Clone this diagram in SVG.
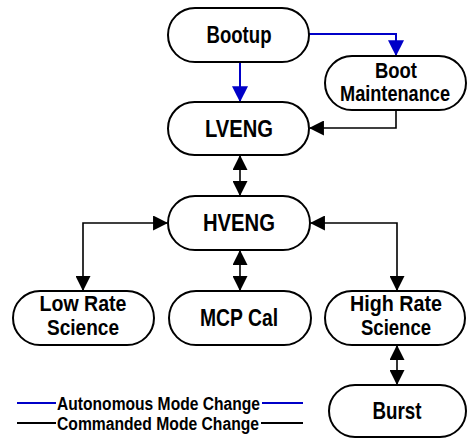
<svg xmlns="http://www.w3.org/2000/svg" width="468" height="439" viewBox="0 0 468 439">
<style>
.box{fill:#fff;stroke:#000;stroke-width:2}
.t{font-family:"Liberation Sans",Arial,sans-serif;font-weight:bold;font-size:24px;fill:#000;text-anchor:middle}
.t2{font-family:"Liberation Sans",Arial,sans-serif;font-weight:bold;font-size:22px;fill:#000;text-anchor:middle}
.lg{font-family:"Liberation Sans",Arial,sans-serif;font-weight:bold;font-size:18px;fill:#000}
.blue{fill:none;stroke:#0000c8;stroke-width:2}
.blk{fill:none;stroke:#000;stroke-width:1.6}
</style>
<defs>
<marker id="ab" markerUnits="userSpaceOnUse" markerWidth="16" markerHeight="16" viewBox="0 0 14 14" refX="13" refY="7" orient="auto">
<path d="M0,0 L14,7 L0,14 Z" fill="#0000c8"/>
</marker>
<marker id="ak" markerUnits="userSpaceOnUse" markerWidth="15" markerHeight="15" viewBox="0 0 14 14" refX="13" refY="7" orient="auto-start-reverse">
<path d="M0,0 L14,7 L0,14 Z" fill="#000"/>
</marker>
</defs>
<g id="connectors">
<path class="blue" d="M240,62 V101" marker-end="url(#ab)"/>
<path class="blue" d="M309,34 H396 V55" marker-end="url(#ab)"/>
<path class="blk" d="M396,110 V128 H310" marker-end="url(#ak)"/>
<path class="blk" d="M240,156 V195" marker-start="url(#ak)" marker-end="url(#ak)"/>
<path class="blk" d="M167,223 H83 V290" marker-start="url(#ak)" marker-end="url(#ak)"/>
<path class="blk" d="M311,223 H397 V290" marker-start="url(#ak)" marker-end="url(#ak)"/>
<path class="blk" d="M240,251 V290" marker-start="url(#ak)" marker-end="url(#ak)"/>
<path class="blk" d="M397,346 V384" marker-start="url(#ak)" marker-end="url(#ak)"/>
</g>
<g id="bootup"><rect class="box" x="168" y="8" width="141" height="54" rx="27"/><text class="t" x="239" y="43" textLength="65" lengthAdjust="spacingAndGlyphs">Bootup</text></g>
<g id="bootmaint"><rect class="box" x="325" y="56" width="141" height="54" rx="27"/><text class="t2" x="396" y="78" textLength="42" lengthAdjust="spacingAndGlyphs">Boot</text><text class="t2" x="395" y="101" textLength="110" lengthAdjust="spacingAndGlyphs">Maintenance</text></g>
<g id="lveng"><rect class="box" x="168" y="102" width="141" height="53" rx="26.5"/><text class="t" x="239" y="137" textLength="68" lengthAdjust="spacingAndGlyphs">LVENG</text></g>
<g id="hveng"><rect class="box" x="168" y="196" width="142" height="54" rx="27"/><text class="t" x="239" y="231" textLength="72" lengthAdjust="spacingAndGlyphs">HVENG</text></g>
<g id="lowrate"><rect class="box" x="13" y="291" width="141" height="54" rx="27"/><text class="t2" x="83" y="311" textLength="87" lengthAdjust="spacingAndGlyphs">Low Rate</text><text class="t2" x="83" y="335" textLength="72" lengthAdjust="spacingAndGlyphs">Science</text></g>
<g id="mcpcal"><rect class="box" x="169" y="291" width="142" height="54" rx="27"/><text class="t" x="239" y="326" textLength="78" lengthAdjust="spacingAndGlyphs">MCP Cal</text></g>
<g id="highrate"><rect class="box" x="325" y="291" width="140" height="54" rx="27"/><text class="t2" x="396" y="311" textLength="92" lengthAdjust="spacingAndGlyphs">High Rate</text><text class="t2" x="396" y="335" textLength="70" lengthAdjust="spacingAndGlyphs">Science</text></g>
<g id="burst"><rect class="box" x="329" y="385" width="137" height="52" rx="26"/><text class="t" x="397" y="419" textLength="49" lengthAdjust="spacingAndGlyphs">Burst</text></g>
<g id="legend">
<line x1="17" y1="403" x2="56" y2="403" stroke="#0000c8" stroke-width="2"/>
<line x1="262" y1="403" x2="303" y2="403" stroke="#0000c8" stroke-width="2"/>
<text class="lg" x="57" y="410" textLength="203" lengthAdjust="spacingAndGlyphs">Autonomous Mode Change</text>
<line x1="17" y1="423" x2="56" y2="423" stroke="#000" stroke-width="2"/>
<line x1="261" y1="423" x2="303" y2="423" stroke="#000" stroke-width="2"/>
<text class="lg" x="57" y="430" textLength="202" lengthAdjust="spacingAndGlyphs">Commanded Mode Change</text>
</g>
</svg>
